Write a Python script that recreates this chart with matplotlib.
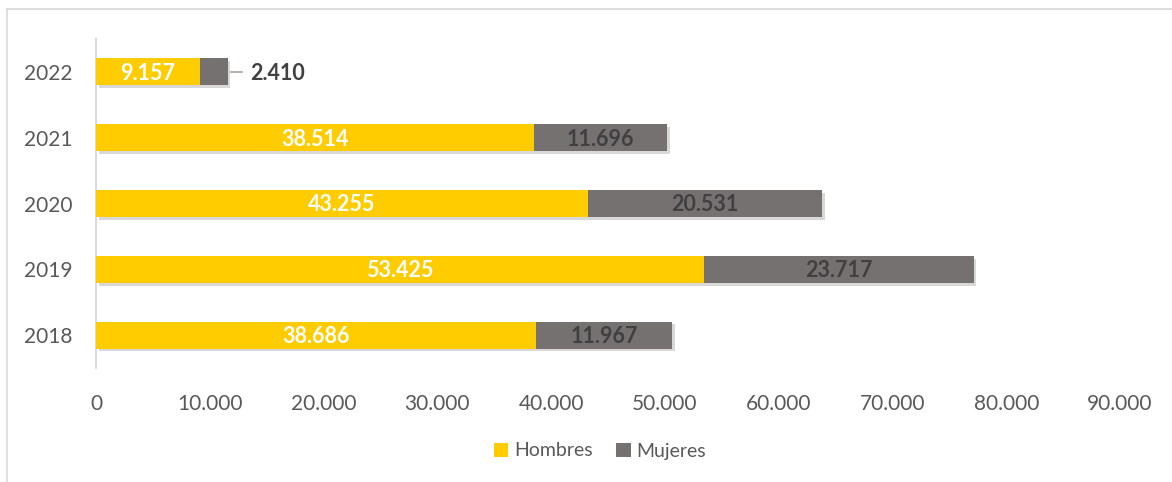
import matplotlib.pyplot as plt
import matplotlib.patheffects as pe
from matplotlib.patches import Patch
from matplotlib.lines import Line2D

plt.rcParams["font.family"] = ["Lato", "DejaVu Sans"]

# --- data ---
years = ["2018", "2019", "2020", "2021", "2022"]
hombres = [38686, 53425, 43255, 38514, 9157]
mujeres = [11967, 23717, 20531, 11696, 2410]
xticks = [0, 10000, 20000, 30000, 40000, 50000, 60000, 70000, 80000, 90000]

COLOR_H = "#FFCC00"
COLOR_M = "#767171"
COLOR_TXT = "#595959"
COLOR_DARK = "#404040"


def fmt(v):
    return f"{v:,}".replace(",", ".")


fig = plt.figure(figsize=(11.72, 4.82), dpi=100)
ax = fig.add_axes([96 / 1172, 114 / 482, (1120 - 96) / 1172, 329 / 482])

shadow = [pe.SimplePatchShadow(offset=(2, -2), alpha=0.3, shadow_rgbFace="#7f7f7f"), pe.Normal()]
y = list(range(len(years)))
ax.barh(y, hombres, height=0.41, color=COLOR_H, path_effects=shadow, zorder=3)
ax.barh(y, mujeres, left=hombres, height=0.41, color=COLOR_M, path_effects=shadow, zorder=3)

for i, (h, m) in enumerate(zip(hombres, mujeres)):
    ax.text(h / 2, i - 0.02, fmt(h), ha="center", va="center", color="white",
            fontsize=15.5, fontweight="bold", zorder=5)
    if m > 5000:
        ax.text(h + m / 2, i - 0.02, fmt(m), ha="center", va="center", color=COLOR_DARK,
                fontsize=15.5, fontweight="bold", zorder=5)
    else:
        end = h + m
        ax.add_line(Line2D([end + 300, end + 1300], [i, i], color="#A6A6A6", lw=1.2))
        ax.text(end + 2000, i - 0.03, fmt(m), ha="left", va="center", color=COLOR_DARK,
                fontsize=15.5, fontweight="bold", zorder=5)

ax.set_xlim(0, 90000)
ax.set_ylim(-0.5, len(years) - 0.5)
ax.set_yticks(y)
ax.set_yticklabels(years, fontsize=15, color=COLOR_TXT)
ax.set_xticks(xticks)
ax.set_xticklabels([fmt(v) for v in xticks], fontsize=15, color=COLOR_TXT)
ax.tick_params(axis="both", length=0)
ax.tick_params(axis="x", pad=19)
ax.tick_params(axis="y", pad=17)
for s in ["top", "right", "bottom"]:
    ax.spines[s].set_visible(False)
ax.spines["left"].set_color("#D9D9D9")
ax.spines["left"].set_linewidth(1.5)

handles = [Patch(facecolor=COLOR_H, label="Hombres"), Patch(facecolor=COLOR_M, label="Mujeres")]
fig.legend(handles=handles, loc="center", bbox_to_anchor=(600 / 1172, 1 - 451 / 482),
           ncol=2, frameon=False, fontsize=14, handlelength=0.75, handleheight=0.75,
           handletextpad=0.3, columnspacing=1.2, labelcolor=COLOR_TXT)

# outer frame (partially visible, as in the source screenshot)
fig.add_artist(Line2D([7 / 1172, 7 / 1172], [0, 1 - 9 / 482], transform=fig.transFigure,
                      color="#D9D9D9", lw=1.2))
fig.add_artist(Line2D([7 / 1172, 1], [1 - 9 / 482, 1 - 9 / 482], transform=fig.transFigure,
                      color="#D9D9D9", lw=1.2))

fig.savefig("out.png", dpi=100)
